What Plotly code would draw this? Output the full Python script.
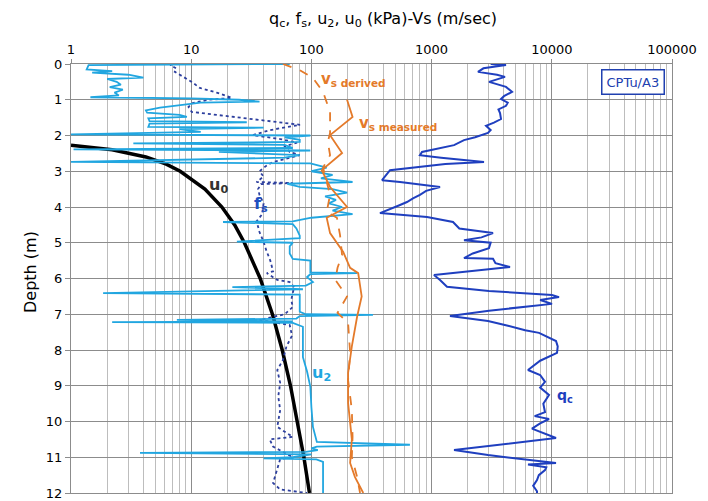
import plotly.graph_objects as go

# ---------------- data ----------------
qc_depth = [0.0, 0.03, 0.12, 0.22, 0.30, 0.36, 0.5, 0.64, 0.78, 0.9, 0.98, 1.08, 1.17, 1.27, 1.37, 1.54, 1.64, 1.73, 1.85, 1.93,
            2.05, 2.13, 2.27, 2.35, 2.46, 2.55, 2.62, 2.74, 2.8, 2.97, 3.1, 3.25, 3.3, 3.44, 3.55, 3.66, 3.76, 3.86, 3.95, 4.03,
            4.17, 4.28, 4.42, 4.6, 4.73, 4.85, 4.93, 5.0, 5.15, 5.3, 5.43, 5.45, 5.57, 5.68, 5.8, 5.9, 6.04, 6.23, 6.35,
            6.46, 6.52, 6.6, 6.71, 6.9, 7.05, 7.19, 7.32, 7.45, 7.52, 7.65, 7.75, 7.9, 8.08, 8.3, 8.45, 8.56, 8.7, 8.89,
            9.05, 9.26, 9.5, 9.74, 9.85, 9.93, 10.05, 10.2, 10.46, 10.6, 10.8, 10.94, 11.05, 11.16, 11.2, 11.28, 11.36,
            11.5, 11.64, 11.8, 11.95, 12.0]
qc_val = [3100, 4160, 2700, 2432, 3500, 4080, 3005, 4160, 4670, 4000, 3780, 4300, 4160, 3600, 3710, 3780, 3300, 2836, 3100, 2945,
          2300, 1860, 1537, 1175, 832, 800, 1200, 2729, 1300, 451, 420, 387, 546, 1175, 900, 800, 700, 624, 540, 477,
          372, 916, 1507, 1700, 3243, 2600, 1860, 3100, 3000, 2200, 1860, 3243, 3400, 4490, 2000, 1047, 1175, 1343, 3000,
          10040, 11480, 8000, 10040, 3000, 1422, 2945, 4320, 6000, 7830, 9500, 10840, 11200, 11050, 8000, 7000, 6340, 8000, 8780,
          8000, 9480, 8500, 8780, 7200, 9480, 8000, 6840, 10840, 5000, 1537, 2945, 6000, 10840, 6340, 9000, 8780,
          7800, 7530, 7000, 7530, 7530]

fs_depth = [0.0, 0.03, 0.12, 0.22, 0.35, 0.5, 0.67, 0.8, 0.95, 1.0, 1.09, 1.2, 1.34, 1.51, 1.7, 1.85, 1.99, 2.1, 2.2, 2.3,
            2.46, 2.55, 2.65, 2.74, 2.85, 3.0, 3.15, 3.3, 3.33, 3.36, 3.5, 3.66, 3.9, 4.2, 4.4, 4.7, 4.97, 5.2, 5.5, 5.8,
            5.85, 6.04, 6.1, 6.25, 6.4, 6.6, 6.8, 7.0, 7.16, 7.3, 7.6, 7.9, 8.28, 8.56, 8.92, 9.3, 9.68, 10.15, 10.43,
            10.5, 10.7, 11.0, 11.05, 11.36, 11.72, 11.9, 12.0]
fs_val = [7.0, 6.7, 7.5, 7.3, 8.5, 10.1, 11.8, 16.3, 21.8, 14, 10.3, 9.5, 10.1, 27, 80.4, 45, 32.5, 55, 76, 60,
          66, 80, 60, 48, 42, 37, 40, 35, 70, 38, 36, 37, 40, 39, 35, 37, 40, 42, 45.5, 48,
          42.6, 52, 66, 72, 70, 68, 70, 60, 37, 66, 69, 62, 58, 52, 55, 53, 55, 52, 70,
          45, 48, 70, 55, 52, 48, 55, 92]

u2_depth = [0.0, 0.03, 0.15, 0.2, 0.24, 0.3, 0.38, 0.42, 0.5, 0.58, 0.65, 0.72, 0.8, 0.88, 0.93, 0.96, 1.0, 1.05, 1.08, 1.15,
            1.22, 1.3, 1.36, 1.42, 1.48, 1.52, 1.6, 1.63, 1.67, 1.76, 1.78, 1.82, 1.9, 1.97, 2.0, 2.05, 2.12, 2.18, 2.22,
            2.26, 2.35, 2.39, 2.42, 2.46, 2.5, 2.55, 2.62, 2.74, 2.78, 2.9, 3.0, 3.1, 3.2, 3.3, 3.35, 3.44, 3.5, 3.6, 3.7,
            3.8, 3.9, 4.0, 4.1, 4.2, 4.3, 4.4, 4.42, 4.48, 4.6, 4.8, 4.87, 4.97, 5.0, 5.1, 5.3, 5.45, 5.5, 5.7, 5.83,
            5.85, 5.88, 5.96, 6.1, 6.2, 6.24, 6.3, 6.41, 6.45, 6.6, 6.93, 7.0, 7.02, 7.05, 7.12, 7.16, 7.2, 7.22, 7.24,
            7.35, 7.8, 8.2, 8.6, 9.03, 9.6, 10.15, 10.57, 10.65, 10.7, 10.75, 10.8, 10.85, 10.88, 10.92, 11.0,
            11.03, 11.06, 11.13, 11.5, 12.0]
u2_val = [66, 1.4, 1.35, 2.2, 1.5, 3.0, 4.0, 2.0, 2.4, 2.6, 2.1, 2.7, 2.3, 2.5, 1.45, 10, 25, 37, 12, 8,
          5.5, 4.2, 4.3, 8.0, 9.2, 4.4, 4.5, 29, 4.5, 4.4, 40, 8, 12, 1.0, 98, 60, 80, 80, 3.3,
          60, 70, 1.05, 98, 17, 40, 80, 60, 1.0, 98, 134, 100, 150, 120, 220, 63, 80, 150, 198, 130,
          160, 140, 180, 150, 220, 100, 70, 18.4, 70, 75, 80, 80, 24, 70, 66, 66, 70, 98, 98, 98,
          240, 98, 92, 103, 90, 22, 85, 1.85, 80, 80, 80, 90, 325, 80, 75, 7.6, 70, 2.2, 70,
          85, 85, 85, 92, 98, 100, 103, 111, 660, 111, 100, 113, 90, 3.75, 100, 70,
          40, 110, 125, 125, 125]

u0_depth = [2.27, 2.4, 2.6, 2.8, 3.0, 3.5, 4.0, 4.5, 5.0, 6.0, 7.0, 8.0, 9.0, 10.0, 11.0, 12.0]
u0_val = [1.0, 2.2, 4.2, 6.2, 8.1, 13.0, 18.0, 23.0, 27.7, 37.5, 47.4, 57.2, 67.0, 76.8, 86.6, 96.4]

vsd_depth = [0.0, 0.17, 0.39, 0.78, 1.34, 1.93, 2.18, 2.55, 2.9, 3.3, 3.66, 4.14, 4.3, 4.78, 5.34, 5.7, 6.04, 6.5, 6.96,
             7.24, 8.08, 8.84, 9.68, 10.43, 11.0, 11.55, 12.0]
vsd_val = [58, 80, 103, 125, 143, 143, 137, 143, 125, 134, 143, 134, 163, 173, 180, 165, 158, 198, 165,
           202, 210, 202, 217, 220, 217, 240, 254]

vsm_depth = [1.0, 1.48, 1.99, 2.49, 2.97, 3.44, 4.0, 4.3, 4.73, 5.26, 5.7, 5.85, 6.5, 7.07, 7.9, 8.64, 9.48, 10.5, 11.16,
             11.55, 12.0]
vsm_val = [198, 220, 143, 180, 122, 143, 198, 134, 143, 184, 210, 245, 262, 240, 217, 202, 202, 217, 210, 230, 270]

x_tickvals = [1, 10, 100, 1000, 10000, 100000]
x_ticktext = ["1", "10", "100", "1000", "10000", "100000"]
y_tickvals = list(range(0, 13))

# ---------------- figure ----------------
FONT = "DejaVu Sans"
fig = go.Figure()

fig.add_trace(go.Scatter(x=u0_val, y=u0_depth, mode="lines", line=dict(color="black", width=3.5), name="u0"))
fig.add_trace(go.Scatter(x=fs_val, y=fs_depth, mode="lines", line=dict(color="#2d3f9e", width=1.8, dash="dot"), name="fs"))
fig.add_trace(go.Scatter(x=u2_val, y=u2_depth, mode="lines", line=dict(color="#21a6e0", width=1.8), name="u2"))
fig.add_trace(go.Scatter(x=vsd_val, y=vsd_depth, mode="lines", line=dict(color="#e47a2a", width=1.8, dash="dash"), name="Vs derived"))
fig.add_trace(go.Scatter(x=vsm_val, y=vsm_depth, mode="lines", line=dict(color="#e47a2a", width=1.8), name="Vs measured"))
fig.add_trace(go.Scatter(x=qc_val, y=qc_depth, mode="lines", line=dict(color="#1f3fbf", width=2), name="qc"))

fig.update_layout(
    width=708, height=501,
    margin=dict(l=71, r=36, t=64, b=8, autoexpand=False),
    paper_bgcolor="white", plot_bgcolor="white",
    showlegend=False,
    font=dict(family=FONT, color="black"),
)
fig.update_xaxes(
    type="log", range=[0, 5], side="top", automargin=False,
    tickvals=x_tickvals, ticktext=x_ticktext, tickfont=dict(size=13, family=FONT),
    showgrid=True, gridcolor="#8c8c8c", gridwidth=1,
    minor=dict(showgrid=True, gridcolor="#bdbdbd", gridwidth=1, dtick="D1"),
    showline=True, linecolor="#8c8c8c", mirror=True, ticks="outside", ticklen=4, tickcolor="#8c8c8c",
    zeroline=False,
)
fig.update_yaxes(
    range=[12, 0], tickvals=y_tickvals, tickfont=dict(size=13, family=FONT), automargin=False,
    showgrid=True, gridcolor="#8c8c8c", gridwidth=1,
    showline=True, linecolor="#8c8c8c", mirror=True, ticks="outside", ticklen=5, tickcolor="#8c8c8c",
    zeroline=False,
)

def px2paper(px, py):
    return (px - 71) / 601.0, 1 - (py - 64) / 429.0

anns = [
    ("q<sub>c</sub>, f<sub>s</sub>, u<sub>2</sub>, u<sub>0</sub> (kPa)-Vs (m/sec)", 383, 20, 16, "black"),
    ("<b>u<sub>0</sub></b>", 218, 185, 16, "#333333"),
    ("<b>f<sub>s</sub></b>", 261, 204, 16, "#2050c0"),
    ("<b>u<sub>2</sub></b>", 321, 373, 16, "#21a6e0"),
    ("<b>q<sub>c</sub></b>", 565, 396, 14, "#1f3fbf"),
    ("<b>v<sub>s derived</sub></b>", 353, 79, 15, "#e47a2a"),
    ("<b>v<sub>s measured</sub></b>", 398, 123, 15, "#e47a2a"),
]
for text, px, py, size, color in anns:
    xx, yy = px2paper(px, py)
    fig.add_annotation(text=text, x=xx, y=yy, xref="paper", yref="paper", showarrow=False,
                       font=dict(size=size, color=color, family=FONT), xanchor="center", yanchor="middle")

# y-axis title
tx, ty = px2paper(30, 272)
fig.add_annotation(text="Depth (m)", x=tx, y=ty, xref="paper", yref="paper", showarrow=False, textangle=-90,
                   font=dict(size=16, color="black", family=FONT), xanchor="center", yanchor="middle")

bx, by = px2paper(633, 82)
fig.add_annotation(text="CPTu/A3", x=bx, y=by, xref="paper", yref="paper", showarrow=False,
                   font=dict(size=13, color="#2040b0", family=FONT), bordercolor="#2040b0", borderwidth=1.5,
                   borderpad=4, bgcolor="white", xanchor="center", yanchor="middle")

fig.write_html("out.html", config={"displayModeBar": False},
               post_script="document.body.style.margin='0';document.body.style.padding='0';")
